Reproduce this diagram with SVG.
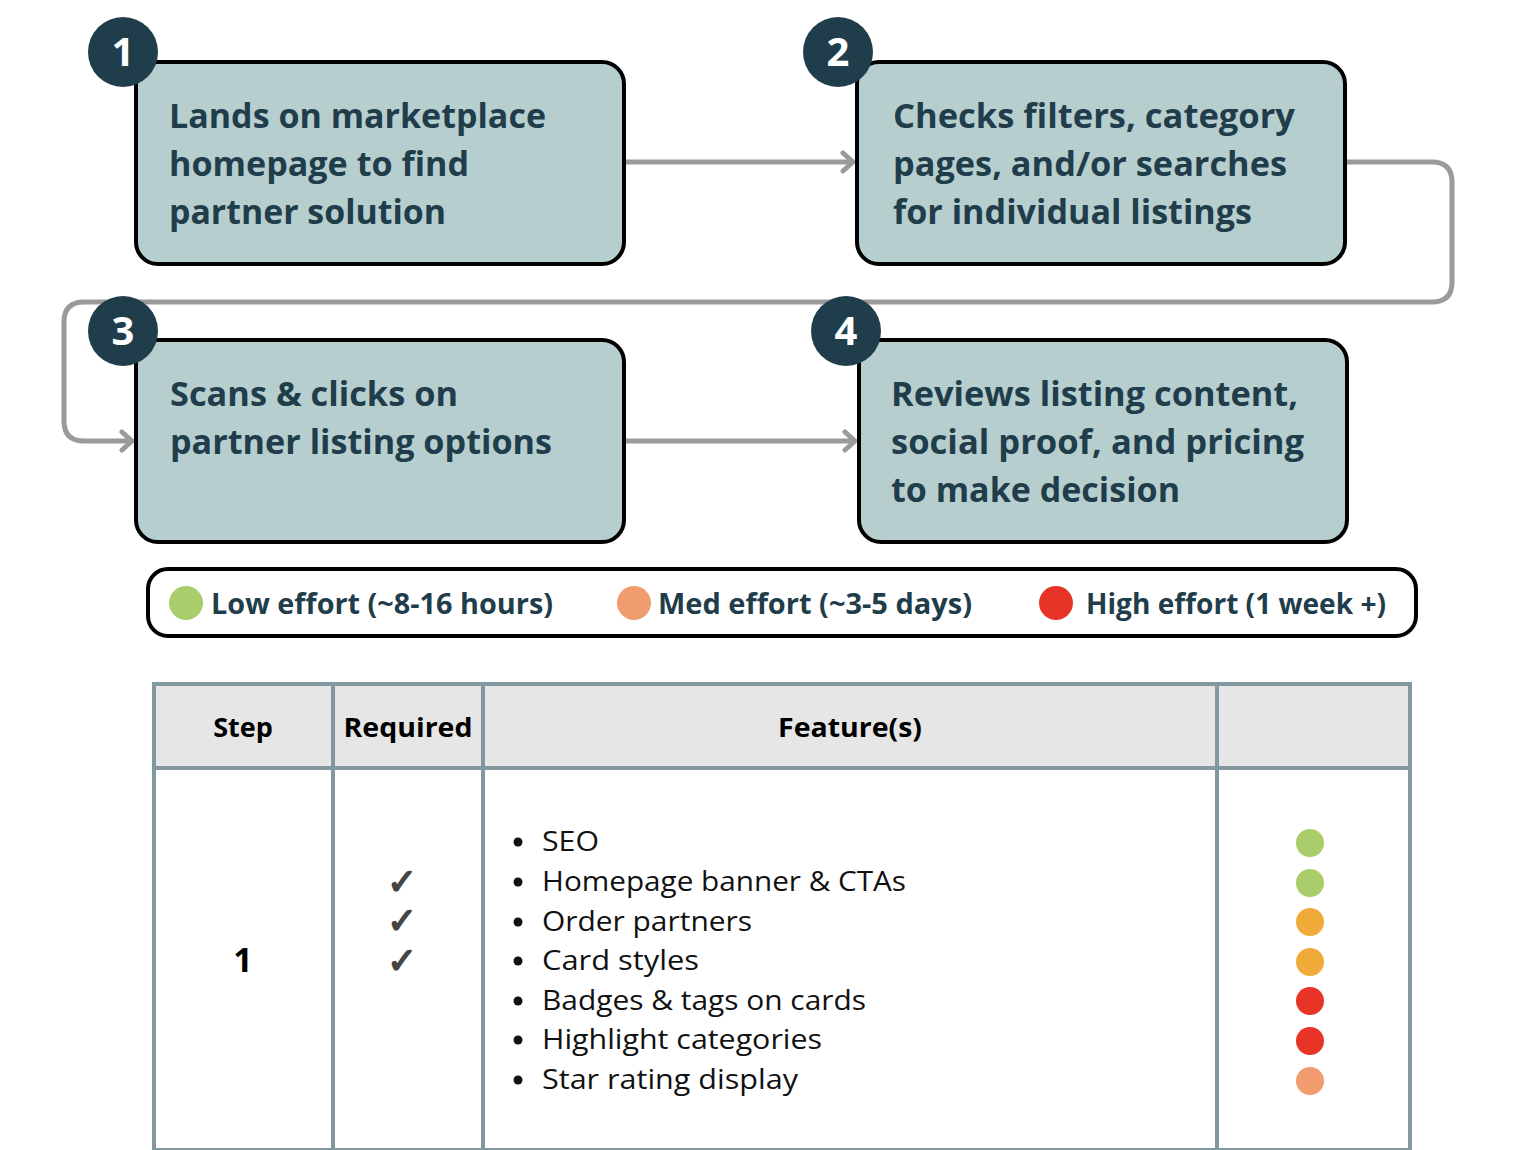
<svg xmlns="http://www.w3.org/2000/svg" width="1532" height="1150" viewBox="0 0 1532 1150">
<defs>
<style>
.box{fill:#b7cecf;stroke:#000;stroke-width:4}
.badge{fill:#1f3d4a}
.num{fill:#fff;font-family:"Open Sans","Liberation Sans",sans-serif;font-weight:700;font-size:40px;text-anchor:middle}
.bt{fill:#1f3d4a;font-family:"Open Sans","Liberation Sans",sans-serif;font-weight:700;font-size:34px}
.conn{fill:none;stroke:#9a9a9a;stroke-width:5;stroke-linejoin:round}
.lg{fill:#1f3d4a;font-family:"Open Sans","Liberation Sans",sans-serif;font-weight:700;font-size:28px}
.tb{stroke:#82989f;stroke-width:4;fill:none}
.th{fill:#000;font-family:"Open Sans","Liberation Sans",sans-serif;font-weight:700;font-size:27px;text-anchor:middle}
.li{fill:#111;font-family:"Open Sans","Liberation Sans",sans-serif;font-size:28px}
.chk{fill:#444;stroke:#444;stroke-width:1.6;font-family:"DejaVu Sans",sans-serif;font-size:36px;text-anchor:middle}
</style>
<marker id="arr" markerUnits="userSpaceOnUse" markerWidth="20" markerHeight="24" viewBox="-14 -12 18 24" refX="0" refY="0" orient="auto">
<path d="M-10,-9 L0,0 L-10,9" fill="none" stroke="#9a9a9a" stroke-width="5" stroke-linecap="round" stroke-linejoin="round"/>
</marker>
</defs>
<rect width="1532" height="1150" fill="#fff"/>

<g id="connectors">
<path class="conn" d="M624,162 H853" marker-end="url(#arr)"/>
<path class="conn" d="M1345,162 H1432 Q1452,162 1452,182 V282 Q1452,302 1432,302 H84 Q64,302 64,322 V421 Q64,441 84,441 H132" marker-end="url(#arr)"/>
<path class="conn" d="M624,441 H855" marker-end="url(#arr)"/>
</g>

<g id="node1">
<rect class="box" x="136" y="62" width="488" height="202" rx="22"/>
<circle class="badge" cx="123" cy="52" r="35"/>
<text class="num" x="123" y="66">1</text>
<text class="bt" x="169" y="128" textLength="377" lengthAdjust="spacingAndGlyphs">Lands on marketplace</text>
<text class="bt" x="169" y="176" textLength="300" lengthAdjust="spacingAndGlyphs">homepage to find</text>
<text class="bt" x="169" y="224" textLength="277" lengthAdjust="spacingAndGlyphs">partner solution</text>
</g>

<g id="node2">
<rect class="box" x="857" y="62" width="488" height="202" rx="22"/>
<circle class="badge" cx="838" cy="52" r="35"/>
<text class="num" x="838" y="66">2</text>
<text class="bt" x="893" y="128" textLength="402" lengthAdjust="spacingAndGlyphs">Checks filters, category</text>
<text class="bt" x="893" y="176" textLength="394" lengthAdjust="spacingAndGlyphs">pages, and/or searches</text>
<text class="bt" x="893" y="224" textLength="359" lengthAdjust="spacingAndGlyphs">for individual listings</text>
</g>

<g id="node3">
<rect class="box" x="136" y="340" width="488" height="202" rx="22"/>
<circle class="badge" cx="123" cy="331" r="35"/>
<text class="num" x="123" y="345">3</text>
<text class="bt" x="170" y="406" textLength="288" lengthAdjust="spacingAndGlyphs">Scans &amp; clicks on</text>
<text class="bt" x="170" y="454" textLength="382" lengthAdjust="spacingAndGlyphs">partner listing options</text>
</g>

<g id="node4">
<rect class="box" x="859" y="340" width="488" height="202" rx="22"/>
<circle class="badge" cx="846" cy="331" r="35"/>
<text class="num" x="846" y="345">4</text>
<text class="bt" x="891" y="406" textLength="407" lengthAdjust="spacingAndGlyphs">Reviews listing content,</text>
<text class="bt" x="891" y="454" textLength="413" lengthAdjust="spacingAndGlyphs">social proof, and pricing</text>
<text class="bt" x="891" y="502" textLength="289" lengthAdjust="spacingAndGlyphs">to make decision</text>
</g>

<g id="legend">
<rect x="148" y="569" width="1268" height="67" rx="20" fill="#fff" stroke="#000" stroke-width="4"/>
<circle cx="186" cy="603" r="17" fill="#a8cd6a"/>
<text class="lg" x="211" y="614" textLength="342" lengthAdjust="spacingAndGlyphs">Low effort (~8-16 hours)</text>
<circle cx="634" cy="603" r="17" fill="#f09c6e"/>
<text class="lg" x="658" y="614" textLength="314" lengthAdjust="spacingAndGlyphs">Med effort (~3-5 days)</text>
<circle cx="1056" cy="603" r="17" fill="#e83426"/>
<text class="lg" x="1086" y="614" textLength="300" lengthAdjust="spacingAndGlyphs">High effort (1 week +)</text>
</g>

<g id="table">
<rect x="154" y="684" width="1256" height="84" fill="#e6e6e6"/>
<rect class="tb" x="154" y="684" width="1256" height="466"/>
<line class="tb" x1="154" y1="768" x2="1410" y2="768"/>
<line class="tb" x1="333" y1="684" x2="333" y2="1150"/>
<line class="tb" x1="483" y1="684" x2="483" y2="1150"/>
<line class="tb" x1="1217" y1="684" x2="1217" y2="1150"/>
<text class="th" x="243" y="737">Step</text>
<text class="th" x="408" y="737" textLength="129" lengthAdjust="spacingAndGlyphs">Required</text>
<text class="th" x="850" y="737" textLength="144" lengthAdjust="spacingAndGlyphs">Feature(s)</text>
<text class="th" x="243" y="972" style="font-size:34px">1</text>
<text class="chk" x="402" y="894">✓</text>
<text class="chk" x="402" y="933">✓</text>
<text class="chk" x="402" y="973">✓</text>
<g fill="#111">
<circle cx="518" cy="842" r="4.5"/>
<circle cx="518" cy="882" r="4.5"/>
<circle cx="518" cy="922" r="4.5"/>
<circle cx="518" cy="961" r="4.5"/>
<circle cx="518" cy="1001" r="4.5"/>
<circle cx="518" cy="1040" r="4.5"/>
<circle cx="518" cy="1080" r="4.5"/>
</g>
<text class="li" x="542" y="851" textLength="57" lengthAdjust="spacingAndGlyphs">SEO</text>
<text class="li" x="542" y="891" textLength="364" lengthAdjust="spacingAndGlyphs">Homepage banner &amp; CTAs</text>
<text class="li" x="542" y="931" textLength="210" lengthAdjust="spacingAndGlyphs">Order partners</text>
<text class="li" x="542" y="970" textLength="157" lengthAdjust="spacingAndGlyphs">Card styles</text>
<text class="li" x="542" y="1010" textLength="324" lengthAdjust="spacingAndGlyphs">Badges &amp; tags on cards</text>
<text class="li" x="542" y="1049" textLength="280" lengthAdjust="spacingAndGlyphs">Highlight categories</text>
<text class="li" x="542" y="1089" textLength="256" lengthAdjust="spacingAndGlyphs">Star rating display</text>
<ellipse cx="1310" cy="843" rx="14" ry="14" fill="#a8cd6a"/>
<ellipse cx="1310" cy="883" rx="14" ry="14" fill="#a8cd6a"/>
<ellipse cx="1310" cy="922" rx="14" ry="14" fill="#f0aa3a"/>
<ellipse cx="1310" cy="962" rx="14" ry="14" fill="#f0aa3a"/>
<ellipse cx="1310" cy="1001" rx="14" ry="14" fill="#e83426"/>
<ellipse cx="1310" cy="1041" rx="14" ry="14" fill="#e83426"/>
<ellipse cx="1310" cy="1081" rx="14" ry="14" fill="#f09c6e"/>
</g>
</svg>
